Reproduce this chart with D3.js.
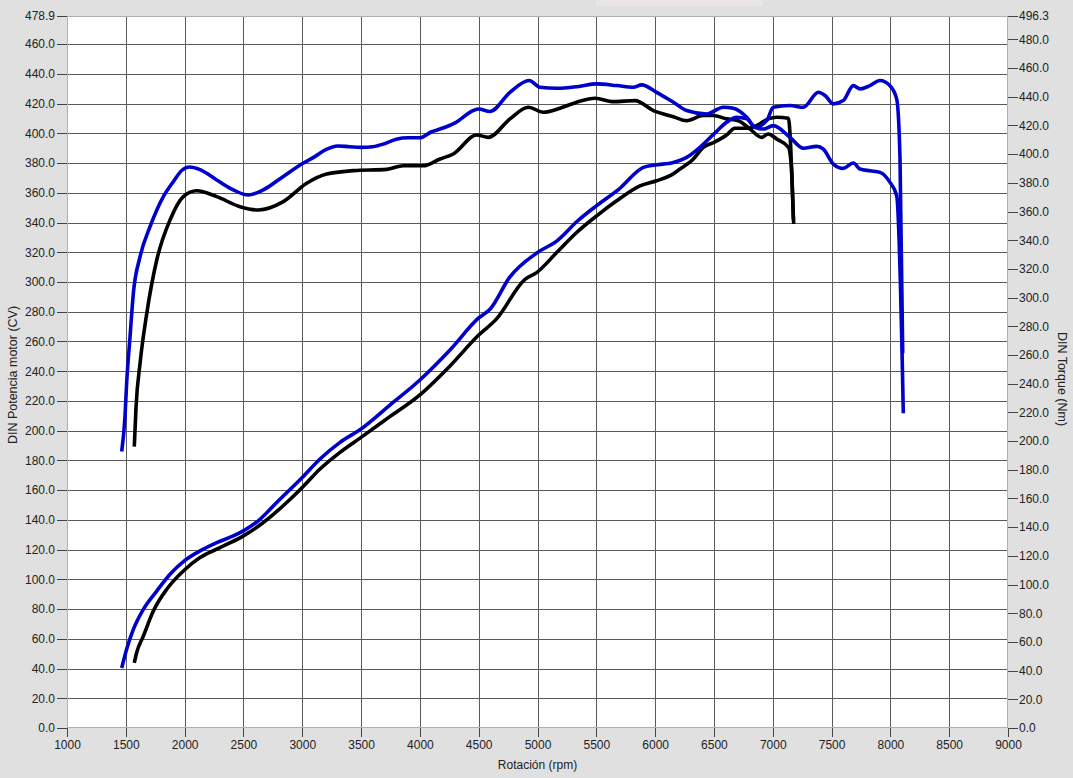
<!DOCTYPE html>
<html>
<head>
<meta charset="utf-8">
<script src="https://cdn.jsdelivr.net/npm/d3@7/dist/d3.min.js"></script>
<style>
  html, body { margin: 0; padding: 0; background: #e0e0e0; }
  svg { display: block; font-family: "Liberation Sans", Arial, sans-serif; }
</style>
</head>
<body>
<svg id="chart" width="1073" height="778"></svg>
<script>
// ---- Data (rpm, value) ----
// Blue run: power (CV, left axis)
const bluePower = [
  [1465,40.4],[1507,53],[1564,66.3],[1649,79.8],[1763,92.1],[1876,103.4],[1997,112.4],
  [2131,119.1],[2273,124.7],[2414,129.2],[2499,132.6],[2641,140.4],[2783,151.7],[3000,168.5],
  [3151,180.9],[3321,192.1],[3500,201.1],[3750,217.5],[4000,234.1],[4256,254.3],[4500,275.8],
  [4600,282],[4761,302.9],[5000,319.8],[5163,327.5],[5340,341],[5500,351.2],[5693,362.5],
  [5900,377.1],[6000,378.7],[6155,380.4],[6268,383.8],[6381,390.6],[6500,399.6],[6608,407.4],
  [6693,410.8],[6780,409.7],[6850,404],[6948,408.5],[7005,417.5],[7147,418.7],[7260,417.5],
  [7388,427.6],[7445,425.4],[7515,419.8],[7600,422],[7685,432.1],[7742,429.9],[7827,432.1],
  [7912,435.5],[7997,432],[8054,423],[8082,383],[8105,252]
];
// Blue run: torque (Nm, right axis)
const blueTorque = [
  [1465,192.8],[1493,217.0],[1507,240.3],[1536,272.8],[1564,303.0],[1621,328.5],[1706,349.4],
  [1819,370.4],[1904,380.8],[1975,388.6],[2040,391.0],[2131,389.2],[2273,382.0],[2414,375.1],[2541,371.5],
  [2669,375.1],[2839,384.5],[3010,393.8],[3100,397.9],[3200,403.1],[3300,405.7],[3400,405.2],
  [3500,404.7],[3600,405.2],[3700,407.3],[3800,410.4],[3900,411.4],[4000,411.4],[4100,415.6],
  [4171,417.5],[4300,421.8],[4454,430.4],[4500,431.5],[4596,429.7],[4766,443.1],[4930,451.3],
  [5021,446.6],[5163,445.9],[5350,447.2],[5503,449.0],[5673,447.8],[5814,446.6],[5885,448.3],
  [6013,443.1],[6155,436.2],[6268,430.4],[6438,428.0],[6580,432.7],[6665,432.0],[6779,425.7],
  [6850,418.7],[6920,417.5],[7005,419.9],[7147,411.7],[7260,404.1],[7374,405.4],[7430,403.5],
  [7515,393.1],[7600,390.1],[7685,393.8],[7742,389.6],[7827,388.4],[7912,387.3],[7997,380.3],
  [8054,371.0],[8085,310.9],[8100,259.1],[8110,219.4]
];
// Black run: power (CV, left axis)
const blackPower = [
  [1572,43.8],[1592,50.6],[1649,61.8],[1734,78.7],[1848,93.3],[1989,105.6],[2131,114.6],
  [2301,121.3],[2500,129.2],[2669,138.2],[2868,151.7],[3000,161.8],[3151,174.2],[3321,185.4],
  [3500,195.5],[3718,207.9],[4000,224],[4250,243],[4500,264.3],[4650,275],[4894,301.8],
  [4993,306.3],[5163,319.8],[5333,333.3],[5503,344.5],[5673,354.6],[5871,364.7],[6013,368.1],
  [6127,371.5],[6212,376],[6325,382.7],[6409,390.6],[6500,393.9],[6608,398.9],[6679,403.4],
  [6779,403.4],[6863,405.2],[6962,409.7],[7033,410.8],[7133,410.1],[7150,395],[7165,365],[7178,339]
];
// Black run: torque (Nm, right axis)
const blackTorque = [
  [1572,196.1],[1587,223.9],[1621,254.2],[1678,289.0],[1763,326.2],[1876,354.1],[1989,370.4],
  [2103,374.5],[2273,370.4],[2471,363.4],[2627,361.1],[2839,366.9],[3038,379.7],[3208,386.1],
  [3434,388.5],[3718,389.4],[3859,391.9],[4029,391.9],[4171,396.6],[4284,400.1],[4482,413.4],
  [4582,411.7],[4766,424.6],[4922,432.7],[5050,429.2],[5191,432.0],[5333,436.2],[5489,439.0],
  [5645,436.6],[5829,437.3],[5985,430.4],[6155,426.1],[6268,423.3],[6409,426.9],[6495,426.9],
  [6608,424.6],[6707,423.3],[6807,417.5],[6906,411.7],[6962,414.1],[7033,410.6],[7133,404.8],
  [7160,389.6],[7175,354.4]
];

// Tick labels
const xTicks = [1000,1500,2000,2500,3000,3500,4000,4500,5000,5500,6000,6500,7000,7500,8000,8500,9000];
const leftTicks = [0,20,40,60,80,100,120,140,160,180,200,220,240,260,280,300,320,340,360,380,400,420,440,460,478.9];
const rightTicks = [0,20,40,60,80,100,120,140,160,180,200,220,240,260,280,300,320,340,360,380,400,420,440,460,480,496.3];
const leftMax = 478.9, rightMax = 496.3;

const svg = d3.select("#chart");
const L = 67, R = 1008, T = 16, B = 728;

const x = d3.scaleLinear().domain([1000, 9000]).range([L, R]);
const yL = d3.scaleLinear().domain([0, leftMax]).range([B, T]);
const yR = d3.scaleLinear().domain([0, rightMax]).range([B, T]);

// background
svg.append("rect").attr("width", 1073).attr("height", 778).attr("fill", "#e0e0e0");
// faint box at top (cut-off legend area)
svg.append("rect").attr("x", 596).attr("y", 0).attr("width", 167).attr("height", 6).attr("fill", "#e9e4e8");

// plot area
svg.append("rect").attr("x", L).attr("y", T).attr("width", R - L).attr("height", B - T)
  .attr("fill", "#ffffff");

const grid = svg.append("g").attr("stroke", "#5a5a5a").attr("stroke-width", 1).attr("shape-rendering", "crispEdges");
grid.selectAll("line.v").data(xTicks.filter(d => d > 1000 && d < 9000)).join("line")
  .attr("x1", d => Math.round(x(d)) + 0.5).attr("x2", d => Math.round(x(d)) + 0.5)
  .attr("y1", T).attr("y2", B);
grid.selectAll("line.h").data(leftTicks.filter(d => d > 0 && d < leftMax)).join("line")
  .attr("y1", d => Math.round(yL(d)) + 0.5).attr("y2", d => Math.round(yL(d)) + 0.5)
  .attr("x1", L).attr("x2", R);

// border
svg.append("rect").attr("x", L + 0.5).attr("y", T + 0.5).attr("width", R - L - 1).attr("height", B - T - 1)
  .attr("fill", "none").attr("stroke", "#b0b0b0").attr("shape-rendering", "crispEdges");

// axes
function styleAxis(g) {
  g.select(".domain").remove();
  g.selectAll(".tick line").attr("stroke", "#444").attr("shape-rendering", "crispEdges");
  g.selectAll(".tick text").attr("fill", "#222").attr("font-size", "12px")
    .attr("font-family", "'Liberation Sans', Arial, sans-serif");
}
svg.append("g").attr("transform", `translate(${L},0)`)
  .call(d3.axisLeft(yL).tickValues(leftTicks).tickFormat(d3.format(".1f")).tickSize(10).tickPadding(2))
  .call(styleAxis);
svg.append("g").attr("transform", `translate(${R},0)`)
  .call(d3.axisRight(yR).tickValues(rightTicks).tickFormat(d3.format(".1f")).tickSize(10).tickPadding(1))
  .call(styleAxis);
svg.append("g").attr("transform", `translate(0,${B})`)
  .call(d3.axisBottom(x).tickValues(xTicks).tickFormat(d3.format("d")).tickSize(9).tickPadding(3))
  .call(styleAxis);

// axis titles
svg.append("text").attr("x", (L + R) / 2).attr("y", 769).attr("text-anchor", "middle")
  .attr("font-size", "12px").attr("fill", "#222").text("Rotación (rpm)");
svg.append("text").attr("transform", `translate(17,375) rotate(-90)`).attr("text-anchor", "middle")
  .attr("font-size", "12.5px").attr("fill", "#222").text("DIN Potencia motor (CV)");
svg.append("text").attr("transform", `translate(1058,379) rotate(90)`).attr("text-anchor", "middle")
  .attr("font-size", "12.5px").attr("fill", "#222").text("DIN Torque (Nm)");

// lines
const lineL = d3.line().x(d => x(d[0])).y(d => yL(d[1])).curve(d3.curveMonotoneX);
const lineR = d3.line().x(d => x(d[0])).y(d => yR(d[1])).curve(d3.curveMonotoneX);
const marks = svg.append("g").attr("fill", "none").attr("stroke-width", 3.6)
  .attr("stroke-linejoin", "round").attr("stroke-linecap", "butt");
marks.append("path").datum(blackPower).attr("d", lineL).attr("stroke", "#000000");
marks.append("path").datum(blackTorque).attr("d", lineR).attr("stroke", "#000000");
marks.append("path").datum(bluePower).attr("d", lineL).attr("stroke", "#0000cc");
marks.append("path").datum(blueTorque).attr("d", lineR).attr("stroke", "#0000cc");
</script>
</body>
</html>
